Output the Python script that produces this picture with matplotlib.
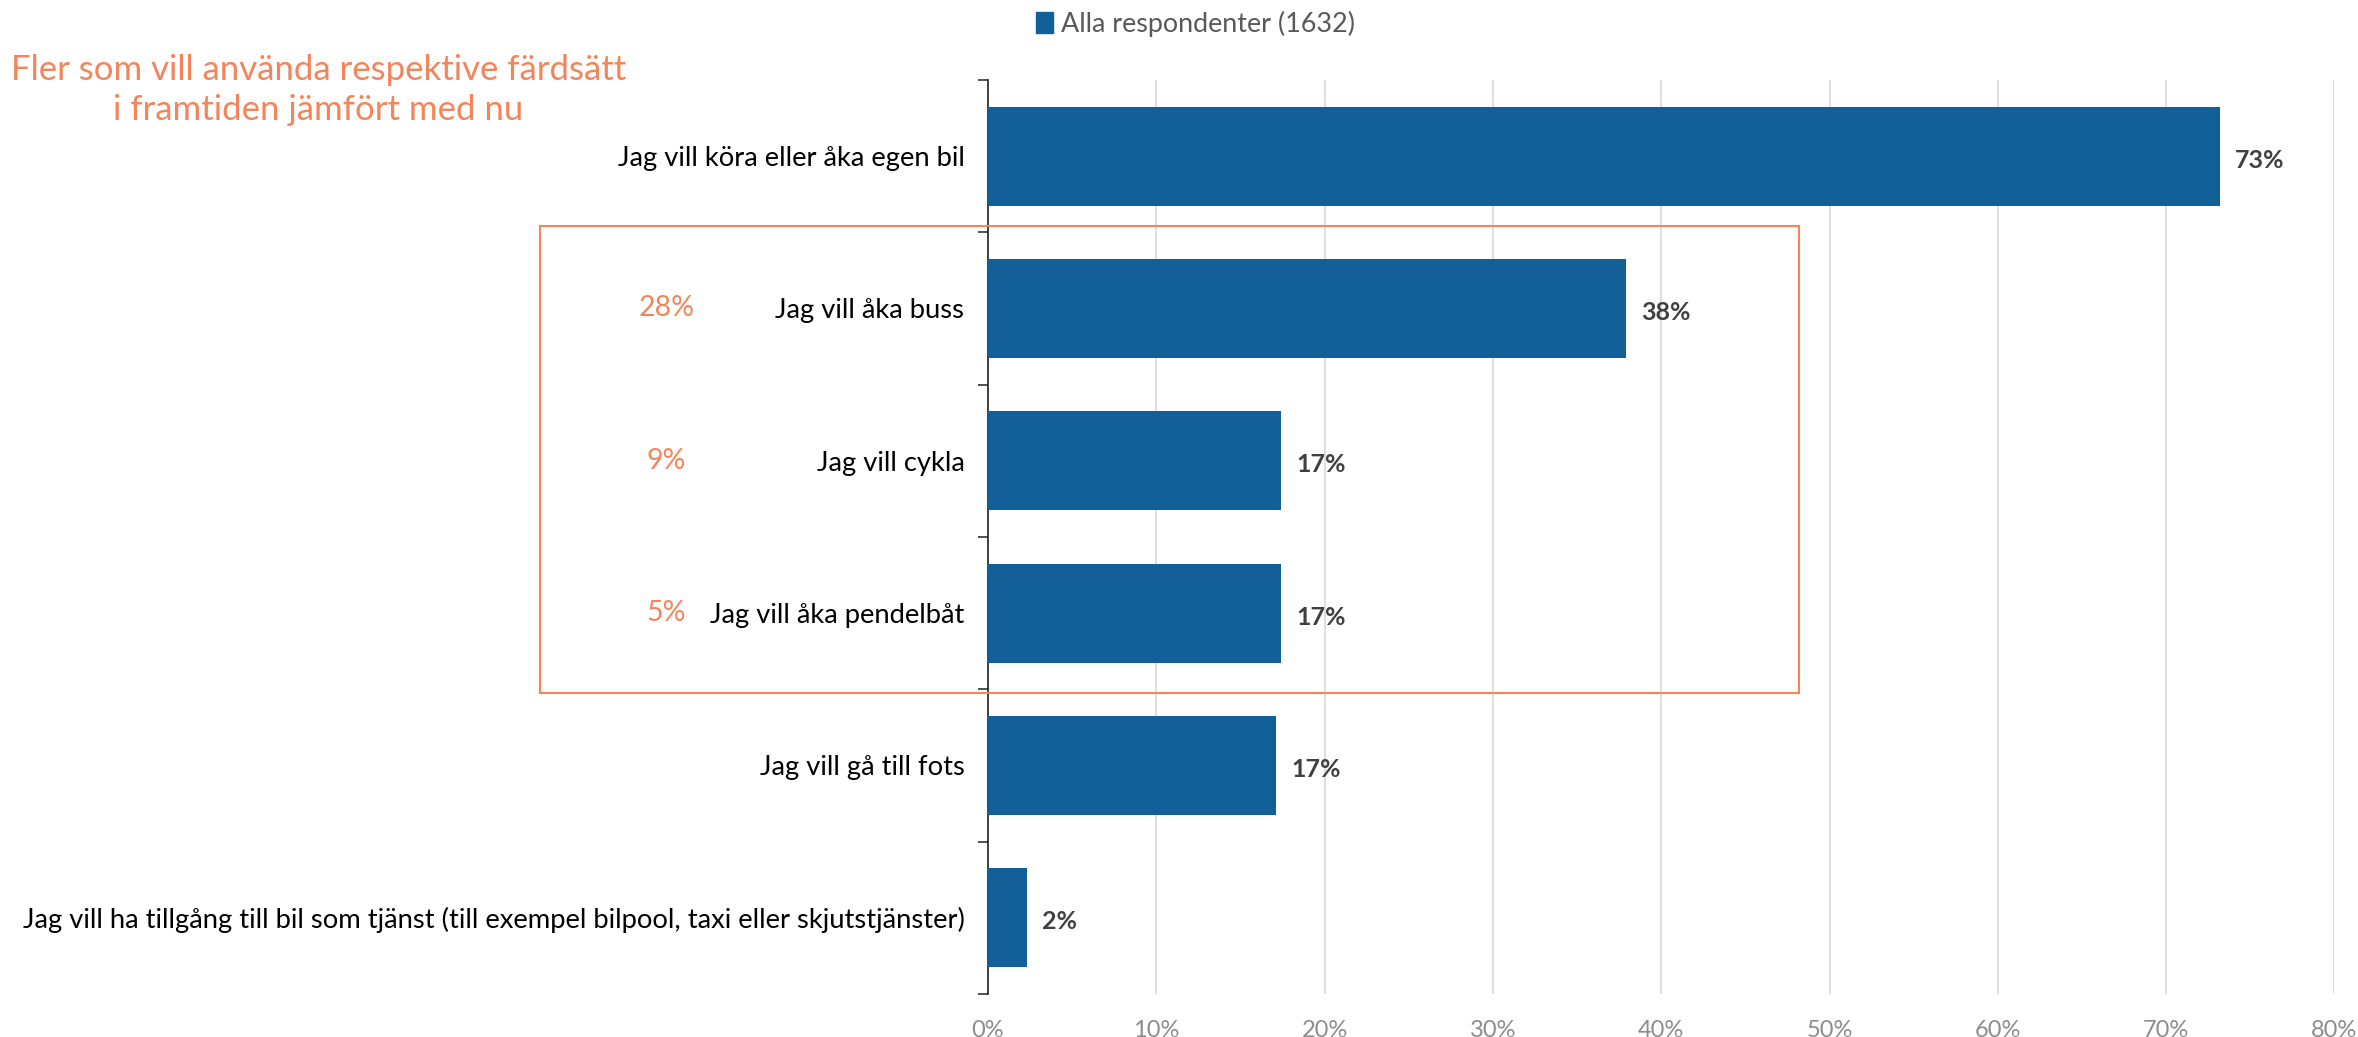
import matplotlib
matplotlib.use('Agg')
import matplotlib.pyplot as plt
from matplotlib.patches import Patch, Rectangle
import numpy as np

plt.rcParams['font.family'] = ['Lato', 'DejaVu Sans']

categories = [
    'Jag vill köra eller åka egen bil',
    'Jag vill åka buss',
    'Jag vill cykla',
    'Jag vill åka pendelbåt',
    'Jag vill gå till fots',
    'Jag vill ha tillgång till bil som tjänst (till exempel bilpool, taxi eller skjutstjänster)',
]
values = [73.2, 37.9, 17.4, 17.4, 17.1, 2.3]
value_labels = ['73%', '38%', '17%', '17%', '17%', '2%']
# "fler som vill" numbers shown in orange inside the box
extra_labels = {1: '28%', 2: '9%', 3: '5%'}
legend_label = 'Alla respondenter (1632)'
title_text = 'Fler som vill använda respektive färdsätt\ni framtiden jämfört med nu'

bar_color = '#135f98'
orange = '#f4845a'

fig = plt.figure(figsize=(23.58, 10.37), dpi=100)
ax = fig.add_axes([0.419, 0.0415, 0.571, 0.8815])

y = np.arange(len(categories))
ax.barh(y, values, height=0.65, color=bar_color, zorder=3)
ax.set_ylim(len(categories) - 0.5, -0.5)
ax.set_xlim(0, 80)

ax.set_yticks(y)
ax.set_yticklabels(categories, fontsize=19.7, color='black')
ax.set_yticks(np.arange(-0.5, len(categories)), minor=True)
ax.tick_params(axis='y', which='major', length=0, pad=17)
ax.tick_params(axis='y', which='minor', length=7, width=1.2, color='#333333')

ax.set_xticks(np.arange(0, 81, 10))
ax.set_xticklabels([f'{v}%' for v in range(0, 81, 10)], fontsize=17, color='#8c8c8c')
ax.tick_params(axis='x', length=0, pad=19)
ax.grid(axis='x', color='#d9d9d9', linewidth=1.2, zorder=0)

for s in ['top', 'right', 'bottom']:
    ax.spines[s].set_visible(False)
ax.spines['left'].set_color('#222222')
ax.spines['left'].set_linewidth(1.2)

for i, (v, lab) in enumerate(zip(values, value_labels)):
    ax.annotate(lab, (v, i), xytext=(11, -3), textcoords='offset points',
                va='center', ha='left', fontsize=18, fontweight='bold', color='#404040')

for i, lab in extra_labels.items():
    ax.annotate(lab, (0, i), xycoords=('figure fraction', 'data'),
                xytext=(0.2825, 0), textcoords=('figure fraction', 'offset points'),
                ha='center', va='center', fontsize=20.5, color=orange)

fig.patches.append(Rectangle((540 / 2358, 1 - 693 / 1037), (1799 - 540) / 2358, (693 - 226) / 1037,
                             transform=fig.transFigure, fill=False, edgecolor=orange,
                             linewidth=1.5, zorder=10))

fig.text(0.135, 0.913, title_text, ha='center', va='center', fontsize=25,
         color=orange, linespacing=1.3)

fig.legend(handles=[Patch(color=bar_color, label=legend_label)], loc='center',
           bbox_to_anchor=(0.507, 0.977), frameon=False, fontsize=19.4,
           handlelength=0.6, handleheight=0.8, handletextpad=0.3, labelcolor='#595959')

fig.savefig('out.png', dpi=100)
